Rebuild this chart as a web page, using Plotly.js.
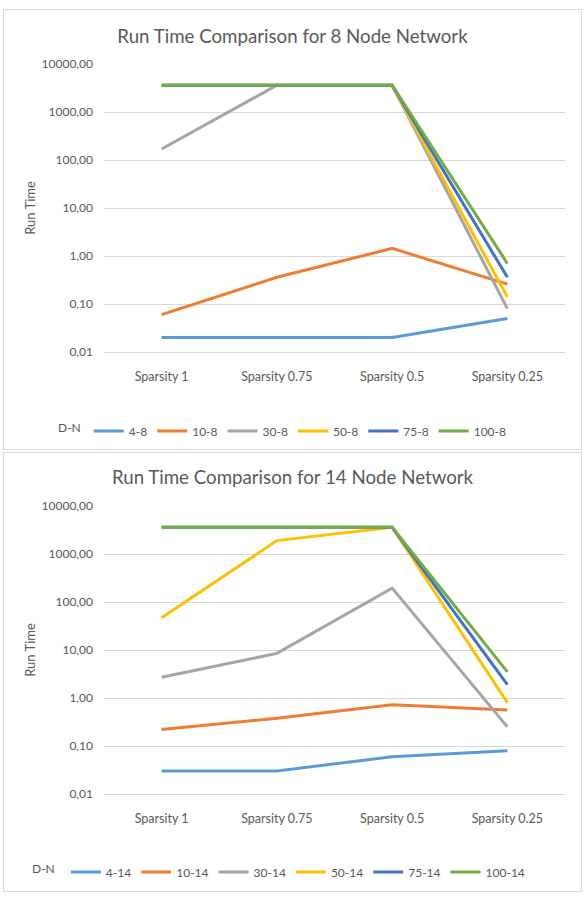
<!DOCTYPE html>
<html>
<head>
<meta charset="utf-8">
<script src="https://cdn.plot.ly/plotly-3.0.1.min.js"></script>
<style>
  body { margin: 0; background: #fff; width: 585px; height: 900px; position: relative; overflow: hidden; }
  .panel { position: absolute; left: 3px; width: 579px; border: 1px solid #d9d9d9; box-sizing: border-box; background: #fff; }
  #p1 { top: 9px; height: 441px; }
  #p2 { top: 452px; height: 440px; }
</style>
</head>
<body>
<div id="p1" class="panel"></div>
<div id="p2" class="panel"></div>
<script>
const categories = ['Sparsity 1', 'Sparsity 0.75', 'Sparsity 0.5', 'Sparsity 0.25'];
const tickValues = [0.01, 0.1, 1, 10, 100, 1000, 10000];
const tickLabels = ['0,01', '0,10', '1,00', '10,00', '100,00', '1000,00', '10000,00'];

const names8 = ['4-8', '10-8', '30-8', '50-8', '75-8', '100-8'];
const d4_8 = [0.02, 0.02, 0.02, 0.05];
const d10_8 = [0.06, 0.36, 1.44, 0.26];
const d30_8 = [170, 3600, 3600, 0.08];
const d50_8 = [3600, 3600, 3600, 0.14];
const d75_8 = [3600, 3600, 3600, 0.36];
const d100_8 = [3600, 3600, 3600, 0.70];

const names14 = ['4-14', '10-14', '30-14', '50-14', '75-14', '100-14'];
const d4_14 = [0.03, 0.03, 0.06, 0.08];
const d10_14 = [0.22, 0.38, 0.72, 0.56];
const d30_14 = [2.7, 8.5, 195, 0.25];
const d50_14 = [47, 1900, 3600, 0.8];
const d75_14 = [3600, 3600, 3600, 1.9];
const d100_14 = [3600, 3600, 3600, 3.5];

const colors = ['#5B9BD5', '#ED7D31', '#A5A5A5', '#FFC000', '#4472C4', '#70AD47'];
const FONT = 'Lato, "Open Sans", sans-serif';
const TXT = '#595959';

function makeTraces(names, series) {
  return series.map((s, i) => ({
    type: 'scatter', mode: 'lines', x: categories, y: s, name: names[i],
    line: { color: colors[i], width: 3 }
  }));
}

function makeLayout(title, h, t, b, titleY, legendY, legendX, legendTitle) {
  const H = h - 2;
  return {
    width: 577, height: H,
    margin: { l: 100, r: 16, t: t, b: b, pad: 0 },
    paper_bgcolor: 'rgba(0,0,0,0)', plot_bgcolor: 'rgba(0,0,0,0)',
    font: { family: FONT, color: TXT, size: 12 },
    showlegend: true,
    title: { text: title, font: { family: FONT, size: 18.7, color: TXT }, x: 0.5, xanchor: 'center', xref: 'container', y: 1 - titleY / H, yref: 'container', yanchor: 'middle', automargin: false },
    xaxis: {
      type: 'category', range: [-0.5, 3.5], showgrid: false, zeroline: false,
      showline: true, linecolor: '#d9d9d9', linewidth: 1, automargin: false,
      ticks: '', tickfont: { family: FONT, size: 12.5, color: TXT }, ticklabelstandoff: 13
    },
    yaxis: {
      type: 'log', range: [-2, 4], tickvals: tickValues, ticktext: tickLabels, automargin: false,
      showgrid: true, gridcolor: '#d9d9d9', gridwidth: 1, zeroline: false, showline: false,
      ticks: '', tickfont: { family: FONT, size: 12, color: TXT }, ticklabelstandoff: 10,
      title: { text: 'Run Time', font: { family: FONT, size: 13, color: TXT }, standoff: 2 }
    },
    legend: {
      orientation: 'h', xref: 'container', yref: 'container',
      x: legendX / 577, xanchor: 'left', y: 1 - legendY / H, yanchor: 'middle',
      font: { family: FONT, size: 12, color: TXT },
      title: { text: legendTitle, side: 'left', font: { family: FONT, size: 12, color: TXT } },
      itemwidth: 30, tracegroupgap: 0
    }
  };
}

Plotly.newPlot('p1', makeTraces(names8, [d4_8, d10_8, d30_8, d50_8, d75_8, d100_8]),
  makeLayout('Run Time Comparison for 8 Node Network', 441, 54, 97, 26, 421, 52, 'D-N'), { staticPlot: true });
Plotly.newPlot('p2', makeTraces(names14, [d4_14, d10_14, d30_14, d50_14, d75_14, d100_14]),
  makeLayout('Run Time Comparison for 14 Node Network', 440, 53, 97, 24, 419, 26, 'D-N '), { staticPlot: true });
</script>
</body>
</html>
